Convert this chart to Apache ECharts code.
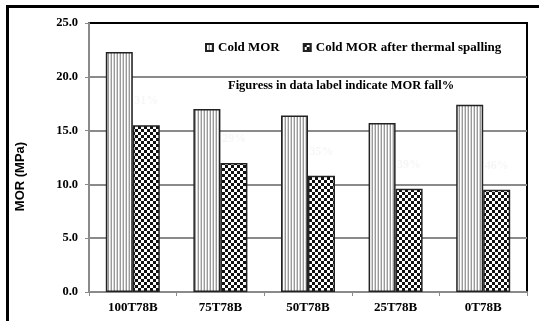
<!DOCTYPE html>
<html>
<head>
<meta charset="utf-8">
<script src="https://cdn.jsdelivr.net/npm/echarts@6/dist/echarts.min.js"></script>
<style>
  html, body { margin: 0; padding: 0; background: #fff; }
  #main { width: 539px; height: 321px; }
</style>
</head>
<body>
<div id="main"></div>
<script>
// 数据
var categories = ["100T78B", "75T78B", "50T78B", "25T78B", "0T78B"];
var coldMor = [22.3, 17.0, 16.4, 15.7, 17.4];
var spallMor = [15.5, 12.0, 10.8, 9.6, 9.5];
var fallPct = [31, 29, 35, 39, 46]; // faint data labels
var yTicks = [0, 5, 25, 5]; // min, interval, max

var serif = "'Liberation Serif', 'Times New Roman', serif";
var sans = "'Liberation Sans', Arial, sans-serif";

// 竖条纹 pattern
function stripePattern() {
  var c = document.createElement("canvas");
  c.width = 3; c.height = 4;
  var ctx = c.getContext("2d");
  var cols = ["#9a9a9a", "#ffffff", "#d6d6d6"];
  cols.forEach(function (col, i) {
    ctx.fillStyle = col;
    ctx.fillRect(i, 0, 1, 4);
  });
  return c;
}
// 棋盘格 pattern
function checkerPattern() {
  var c = document.createElement("canvas");
  c.width = 6; c.height = 6;
  var ctx = c.getContext("2d");
  ctx.fillStyle = "#ffffff";
  ctx.fillRect(0, 0, 6, 6);
  ctx.fillStyle = "#111111";
  ctx.fillRect(0, 0, 3, 3);
  ctx.fillRect(3, 3, 3, 3);
  return c;
}

var chart = echarts.init(document.getElementById("main"));
var option = {
  animation: false,
  backgroundColor: "#fff",
  grid: {
    left: 89, top: 23, right: 12, bottom: 29,
    show: true, borderColor: "#000", borderWidth: 2
  },
  legend: {
    left: 200, top: 36,
    itemWidth: 7, itemHeight: 7, itemGap: 23,
    icon: "rect",
    textStyle: { fontFamily: serif, fontWeight: "bold", fontSize: 13, color: "#000" },
    data: ["Cold MOR", "Cold MOR after thermal spalling"]
  },
  graphic: [
    {
      type: "rect",
      shape: { x: 7.5, y: 6.5, width: 700, height: 500 },
      style: { fill: "none", stroke: "#000", lineWidth: 3 },
      silent: true
    },
    {
      type: "text",
      left: 228, top: 79,
      style: {
        text: "Figuress in data label indicate MOR fall%",
        font: "bold 12.5px " + serif,
        fill: "#000"
      }
    }
  ],
  xAxis: {
    type: "category",
    data: categories,
    axisLine: { lineStyle: { color: "#8a8a8a", width: 2 } },
    axisTick: { show: true, length: 4, lineStyle: { color: "#8a8a8a" } },
    axisLabel: { fontFamily: serif, fontWeight: "bold", fontSize: 13, color: "#000", margin: 9 }
  },
  yAxis: {
    type: "value",
    min: yTicks[0], interval: yTicks[1], max: yTicks[2],
    name: "MOR (MPa)",
    nameLocation: "middle",
    nameGap: 62,
    nameRotate: 90,
    nameTextStyle: { fontFamily: sans, fontWeight: "bold", fontSize: 13, color: "#000", padding: [0, 0, 0, -38] },
    axisLine: { show: true, lineStyle: { color: "#8a8a8a", width: 2 } },
    axisTick: { show: true, length: 4, lineStyle: { color: "#8a8a8a" } },
    axisLabel: {
      fontFamily: serif, fontWeight: "bold", fontSize: 12.5, color: "#000", margin: 11,
      formatter: function (v) { return v.toFixed(1); }
    },
    splitLine: { lineStyle: { color: ["#8a8a8a", "#8a8a8a", "#8a8a8a", "#8a8a8a", "#8a8a8a", "#000"], width: 2 } }
  },
  series: [
    {
      name: "Cold MOR",
      type: "bar",
      data: coldMor,
      barWidth: 27,
      barGap: "0%",
      itemStyle: { color: { image: stripePattern(), repeat: "repeat" }, borderColor: "#222", borderWidth: 1.5 }
    },
    {
      name: "Cold MOR after thermal spalling",
      type: "bar",
      data: spallMor,
      barWidth: 27,
      itemStyle: { color: { image: checkerPattern(), repeat: "repeat" }, borderColor: "#222", borderWidth: 1.5 },
      label: {
        show: true,
        position: "top",
        distance: 18,
        color: "#f6f6f6",
        fontFamily: serif,
        fontWeight: "bold",
        fontSize: 12,
        formatter: function (p) { return fallPct[p.dataIndex] + "%"; }
      }
    }
  ]
};
chart.setOption(option);
</script>
</body>
</html>
